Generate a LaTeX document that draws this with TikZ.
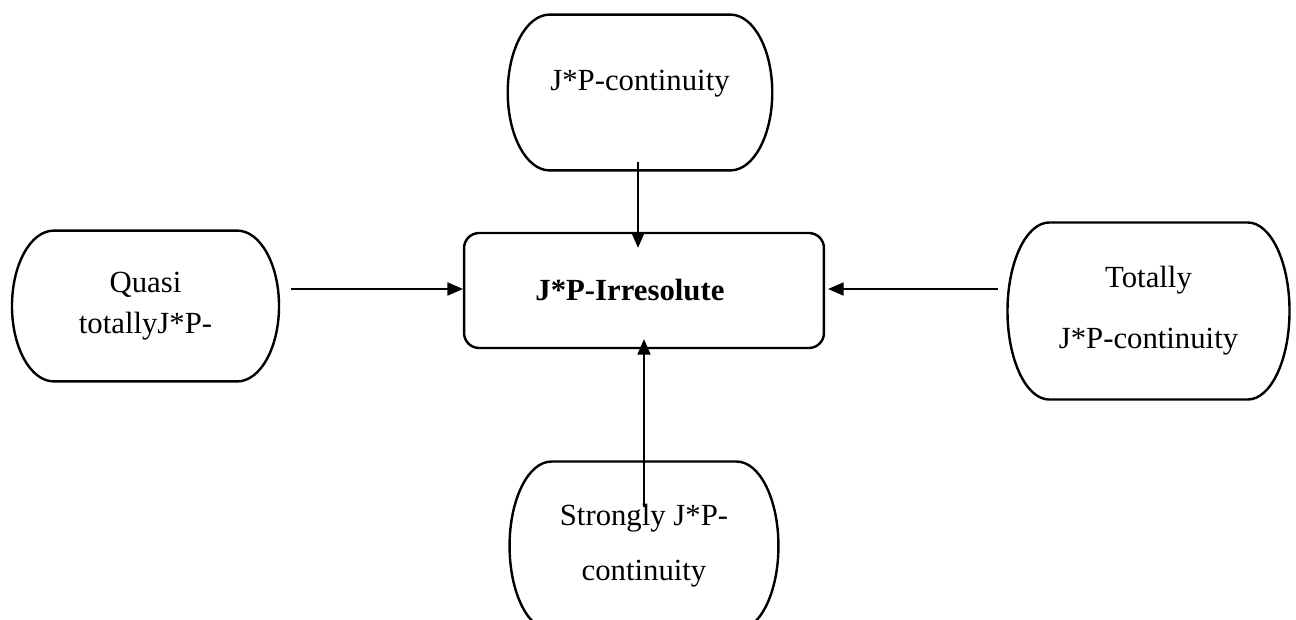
\documentclass[tikz,border=0pt]{standalone}
\usepackage{fontspec}
\setmainfont{Liberation Serif}
\usepackage{tikz}
\usetikzlibrary{arrows.meta,calc}
\newcommand{\bulge}{0.67cm}

\begin{document}
\begin{tikzpicture}[
x=0.016cm, y=-0.016cm,
font=\fontsize{14}{17}\selectfont,
capsule/.style={draw=none, align=center, inner sep=0pt},
rim/.style={line width=1.1pt},
hub/.style={draw, line width=1.1pt, rounded corners=0.24cm, minimum width=5.76cm, minimum height=1.84cm, font=\fontsize{14}{17}\selectfont\bfseries},
arrow/.style={-{Triangle[length=7pt, width=6pt]}, line width=0.5pt}
]
\useasboundingbox (0,0) rectangle (1296,619);

\node[hub] (irr) at (644,290.5) {J*P-Irresolute\hspace*{0.45cm}};

\node[capsule, minimum width=4.22cm, minimum height=2.48cm, text depth=0.38cm] (cont) at (640,92.5) {J*P-continuity};
\node[capsule, minimum width=4.26cm, minimum height=2.40cm, font=\fontsize{14}{18.6}\selectfont] (quasi) at (145.5,306) {Quasi\\totallyJ*P-};
\node[capsule, minimum width=4.50cm, minimum height=2.82cm, font=\fontsize{14}{27.7}\selectfont] (total) at (1148.5,311) {Totally\\J*P-continuity};
\node[capsule, minimum width=4.29cm, minimum height=2.69cm, font=\fontsize{14}{25}\selectfont] (strong) at (644,546) {Strongly J*P-\\continuity};

% outlines with bulging ends
\foreach \nd in {cont,quasi,total,strong}
  \draw[rim] let \p1=(\nd.north), \p2=(\nd.south) in
    ([xshift=\bulge]\nd.north west) -- ([xshift=-\bulge]\nd.north east)
    arc[start angle=90, end angle=-90, x radius=\bulge, y radius={0.5*(\y1-\y2)}]
    -- ([xshift=\bulge]\nd.south west)
    arc[start angle=270, end angle=90, x radius=\bulge, y radius={0.5*(\y1-\y2)}]
    -- cycle;

\draw[arrow] ([shift={(-2,-8)}]cont.south) -- ([shift={(-6,16)}]irr.north);
\draw[arrow] ([yshift=-0.72cm]strong.north) -- ([yshift=0.16cm]irr.south);
\draw[arrow] ([shift={(12,-17)}]quasi.east) -- ([shift={(0,-1.5)}]irr.west);
\draw[arrow] ([shift={(-10,-22)}]total.west) -- ([shift={(3,-1.5)}]irr.east);
\end{tikzpicture}
\end{document}
